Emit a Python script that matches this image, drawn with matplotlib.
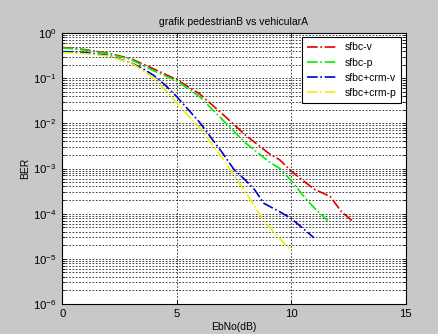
import matplotlib
matplotlib.use("Agg")
import matplotlib.pyplot as plt
from matplotlib.ticker import LogLocator, NullFormatter

# EbNo (dB) and BER values
ebno_sfbc_v = [0, 1, 2, 3, 4, 5, 6, 7, 8, 9, 9.5, 10, 10.5, 11, 11.7, 12.2, 12.7]
ber_sfbc_v = [0.48, 0.43, 0.36, 0.27, 0.16, 0.093, 0.045, 0.016, 0.0055, 0.0022, 0.00155,
              8.8e-4, 5.5e-4, 3.5e-4, 2.4e-4, 1.1e-4, 6.7e-5]

ebno_sfbc_p = [0, 1, 2, 3, 4, 5, 6, 7, 8, 9, 9.5, 10, 10.5, 11, 11.6]
ber_sfbc_p = [0.47, 0.42, 0.35, 0.26, 0.145, 0.087, 0.039, 0.012, 0.0037, 0.00145, 0.001,
              5.4e-4, 2.6e-4, 1.35e-4, 7e-5]

ebno_crm_v = [0, 1, 2, 3, 3.5, 4, 4.5, 5, 6, 7, 7.5, 8, 8.4, 8.8, 9.5, 10, 10.5, 11]
ber_crm_v = [0.39, 0.37, 0.32, 0.22, 0.165, 0.115, 0.07, 0.039, 0.0105, 0.0022, 9.5e-4,
             5.5e-4, 3.4e-4, 1.7e-4, 1.1e-4, 7.8e-5, 4.8e-5, 2.9e-5]

ebno_crm_p = [0, 1, 2, 3, 3.5, 4, 4.5, 5, 6, 7, 8, 8.8, 9, 10]
ber_crm_p = [0.37, 0.35, 0.31, 0.22, 0.15, 0.1, 0.055, 0.028, 0.008, 0.0017, 3.0e-4,
             7e-5, 5.3e-5, 1.5e-5]

x_ticks = [0, 5, 10, 15]
y_ticks = [1e-6, 1e-5, 1e-4, 1e-3, 1e-2, 1e-1, 1e0]

plt.rcParams['font.family'] = ['Liberation Sans', 'DejaVu Sans']
fs = 7.5
fig = plt.figure(figsize=(4.39, 3.34), dpi=100, facecolor="#c8c8c8")
ax = fig.add_axes([0.142, 0.090, 0.782, 0.811])

ax.semilogy(ebno_sfbc_v, ber_sfbc_v, "-.", color="#e00000", lw=1.2, label="sfbc-v")
ax.semilogy(ebno_sfbc_p, ber_sfbc_p, "-.", color="#00ee00", lw=1.2, label="sfbc-p")
ax.semilogy(ebno_crm_v, ber_crm_v, "-.", color="#0000d0", lw=1.2, label="sfbc+crm-v")
ax.semilogy(ebno_crm_p, ber_crm_p, "-.", color="#f0f000", lw=1.2, label="sfbc+crm-p")

ax.set_xticks(x_ticks)
ax.set_yticks(y_ticks)
ax.yaxis.set_minor_locator(LogLocator(base=10, subs=range(2, 10), numticks=20))
ax.yaxis.set_minor_formatter(NullFormatter())
ax.set_xlim(0, 15)
ax.set_ylim(1e-6, 1)
ax.grid(True, which="major", axis="both", color="#202020", ls=(0, (2, 2)), lw=0.6)
ax.grid(True, which="minor", axis="y", color="#202020", ls=(0, (2, 2)), lw=0.6)
ax.tick_params(which="both", direction="in", top=True, right=True, labelsize=8.2,
               length=3, width=0.6, pad=4)
ax.tick_params(which="minor", length=2)
for s in ax.spines.values():
    s.set_linewidth(0.8)

ax.set_title("grafik pedestrianB vs vehicularA", fontsize=fs, pad=6)
ax.set_xlabel("EbNo(dB)", fontsize=fs, labelpad=2)
ax.set_ylabel("BER", fontsize=fs, labelpad=2)

leg = ax.legend(loc="upper right", fontsize=fs, fancybox=False, framealpha=1,
                edgecolor="black", handlelength=3.0, handletextpad=0.6,
                borderpad=0.5, labelspacing=0.5, borderaxespad=0.4)
leg.get_frame().set_linewidth(0.8)

fig.savefig("out.png", dpi=100, facecolor=fig.get_facecolor())
